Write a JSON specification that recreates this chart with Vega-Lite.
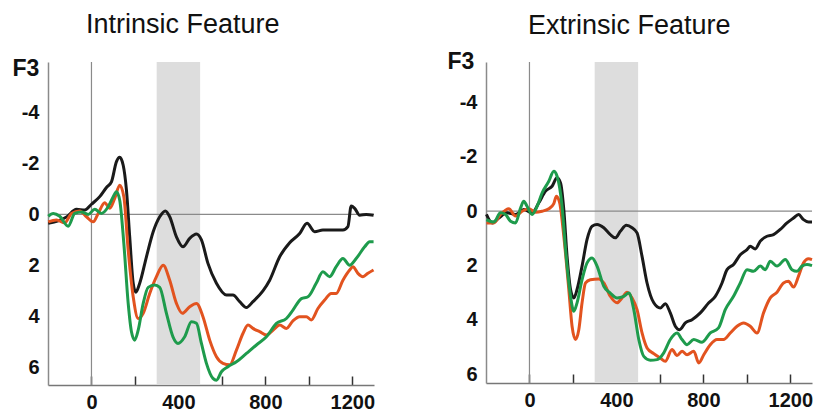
{
  "$schema": "https://vega.github.io/schema/vega-lite/v6.json",
  "padding": {"left": 12, "top": 11, "right": 0, "bottom": 0},
  "spacing": 67,
  "config": {
    "view": {"stroke": null},
    "font": "Liberation Sans",
    "title": {"font": "Liberation Sans", "fontSize": 27, "fontWeight": "normal", "color": "#111", "anchor": "start", "frame": "group", "baseline": "alphabetic"},
    "axis": {"labelFont": "Liberation Sans", "titleFont": "Liberation Sans", "labelColor": "#111", "titleColor": "#111", "grid": false}
  },
  "datasets": {
    "intr": [
      {"t":-199,"v":0.35,"c":"cond3"},{"t":-153,"v":0.25,"c":"cond3"},{"t":-115,"v":0.1,"c":"cond3"},{"t":-69,"v":-0.2,"c":"cond3"},{"t":-31,"v":-0.17,"c":"cond3"},{"t":0,"v":-0.4,"c":"cond3"},{"t":38,"v":-0.7,"c":"cond3"},{"t":69,"v":-1.06,"c":"cond3"},{"t":92,"v":-1.28,"c":"cond3"},{"t":115,"v":-2.07,"c":"cond3"},{"t":130,"v":-2.24,"c":"cond3"},{"t":146,"v":-1.93,"c":"cond3"},{"t":161,"v":-0.95,"c":"cond3"},{"t":176,"v":0.88,"c":"cond3"},{"t":192,"v":2.7,"c":"cond3"},{"t":204,"v":3.05,"c":"cond3"},{"t":222,"v":2.7,"c":"cond3"},{"t":253,"v":1.66,"c":"cond3"},{"t":284,"v":0.68,"c":"cond3"},{"t":314,"v":0.09,"c":"cond3"},{"t":340,"v":-0.14,"c":"cond3"},{"t":360,"v":0.09,"c":"cond3"},{"t":391,"v":0.88,"c":"cond3"},{"t":421,"v":1.27,"c":"cond3"},{"t":452,"v":0.94,"c":"cond3"},{"t":483,"v":0.77,"c":"cond3"},{"t":506,"v":1.0,"c":"cond3"},{"t":536,"v":1.92,"c":"cond3"},{"t":575,"v":2.7,"c":"cond3"},{"t":621,"v":3.16,"c":"cond3"},{"t":651,"v":3.16,"c":"cond3"},{"t":682,"v":3.42,"c":"cond3"},{"t":713,"v":3.65,"c":"cond3"},{"t":743,"v":3.42,"c":"cond3"},{"t":789,"v":3.0,"c":"cond3"},{"t":820,"v":2.58,"c":"cond3"},{"t":866,"v":1.66,"c":"cond3"},{"t":912,"v":1.11,"c":"cond3"},{"t":958,"v":0.75,"c":"cond3"},{"t":992,"v":0.35,"c":"cond3"},{"t":1027,"v":0.68,"c":"cond3"},{"t":1065,"v":0.61,"c":"cond3"},{"t":1111,"v":0.61,"c":"cond3"},{"t":1157,"v":0.61,"c":"cond3"},{"t":1180,"v":0.48,"c":"cond3"},{"t":1195,"v":-0.33,"c":"cond3"},{"t":1211,"v":-0.24,"c":"cond3"},{"t":1234,"v":0.03,"c":"cond3"},{"t":1264,"v":0,"c":"cond3"},{"t":1298,"v":0.03,"c":"cond3"},
      {"t":-199,"v":0.29,"c":"cond1"},{"t":-161,"v":0.22,"c":"cond1"},{"t":-123,"v":0.33,"c":"cond1"},{"t":-92,"v":-0.04,"c":"cond1"},{"t":-54,"v":-0.14,"c":"cond1"},{"t":-23,"v":0.09,"c":"cond1"},{"t":8,"v":0.29,"c":"cond1"},{"t":31,"v":-0.04,"c":"cond1"},{"t":61,"v":-0.46,"c":"cond1"},{"t":84,"v":-0.24,"c":"cond1"},{"t":107,"v":-0.63,"c":"cond1"},{"t":130,"v":-1.15,"c":"cond1"},{"t":149,"v":-0.69,"c":"cond1"},{"t":169,"v":1.4,"c":"cond1"},{"t":192,"v":3.23,"c":"cond1"},{"t":215,"v":4.08,"c":"cond1"},{"t":238,"v":3.88,"c":"cond1"},{"t":268,"v":3.1,"c":"cond1"},{"t":299,"v":2.44,"c":"cond1"},{"t":330,"v":1.99,"c":"cond1"},{"t":360,"v":2.58,"c":"cond1"},{"t":391,"v":3.49,"c":"cond1"},{"t":418,"v":3.88,"c":"cond1"},{"t":452,"v":3.62,"c":"cond1"},{"t":483,"v":3.49,"c":"cond1"},{"t":513,"v":4.01,"c":"cond1"},{"t":544,"v":4.93,"c":"cond1"},{"t":575,"v":5.58,"c":"cond1"},{"t":605,"v":5.84,"c":"cond1"},{"t":636,"v":5.9,"c":"cond1"},{"t":667,"v":5.32,"c":"cond1"},{"t":697,"v":4.67,"c":"cond1"},{"t":720,"v":4.34,"c":"cond1"},{"t":743,"v":4.47,"c":"cond1"},{"t":774,"v":4.6,"c":"cond1"},{"t":805,"v":4.73,"c":"cond1"},{"t":835,"v":4.54,"c":"cond1"},{"t":866,"v":4.34,"c":"cond1"},{"t":897,"v":4.47,"c":"cond1"},{"t":927,"v":4.17,"c":"cond1"},{"t":958,"v":4.01,"c":"cond1"},{"t":989,"v":4.01,"c":"cond1"},{"t":1011,"v":4.14,"c":"cond1"},{"t":1042,"v":3.69,"c":"cond1"},{"t":1073,"v":3.36,"c":"cond1"},{"t":1103,"v":3.1,"c":"cond1"},{"t":1126,"v":3.1,"c":"cond1"},{"t":1157,"v":2.58,"c":"cond1"},{"t":1188,"v":2.18,"c":"cond1"},{"t":1203,"v":2.05,"c":"cond1"},{"t":1226,"v":2.31,"c":"cond1"},{"t":1249,"v":2.44,"c":"cond1"},{"t":1272,"v":2.31,"c":"cond1"},{"t":1298,"v":2.18,"c":"cond1"},
      {"t":-199,"v":0.07,"c":"cond2"},{"t":-176,"v":-0.04,"c":"cond2"},{"t":-146,"v":0.07,"c":"cond2"},{"t":-107,"v":0.46,"c":"cond2"},{"t":-77,"v":-0.04,"c":"cond2"},{"t":-46,"v":-0.1,"c":"cond2"},{"t":-15,"v":0,"c":"cond2"},{"t":15,"v":-0.2,"c":"cond2"},{"t":46,"v":-0.04,"c":"cond2"},{"t":77,"v":-0.3,"c":"cond2"},{"t":100,"v":-0.69,"c":"cond2"},{"t":115,"v":-0.89,"c":"cond2"},{"t":130,"v":-0.56,"c":"cond2"},{"t":149,"v":1.14,"c":"cond2"},{"t":169,"v":3.49,"c":"cond2"},{"t":184,"v":4.6,"c":"cond2"},{"t":199,"v":4.93,"c":"cond2"},{"t":215,"v":4.54,"c":"cond2"},{"t":238,"v":3.49,"c":"cond2"},{"t":261,"v":2.86,"c":"cond2"},{"t":291,"v":2.77,"c":"cond2"},{"t":314,"v":2.86,"c":"cond2"},{"t":345,"v":3.88,"c":"cond2"},{"t":375,"v":4.8,"c":"cond2"},{"t":398,"v":5.06,"c":"cond2"},{"t":429,"v":4.8,"c":"cond2"},{"t":460,"v":4.21,"c":"cond2"},{"t":483,"v":4.27,"c":"cond2"},{"t":506,"v":5.06,"c":"cond2"},{"t":529,"v":5.84,"c":"cond2"},{"t":559,"v":6.43,"c":"cond2"},{"t":575,"v":6.5,"c":"cond2"},{"t":598,"v":6.17,"c":"cond2"},{"t":628,"v":5.97,"c":"cond2"},{"t":667,"v":5.78,"c":"cond2"},{"t":713,"v":5.45,"c":"cond2"},{"t":759,"v":5.12,"c":"cond2"},{"t":805,"v":4.8,"c":"cond2"},{"t":851,"v":4.27,"c":"cond2"},{"t":897,"v":4.08,"c":"cond2"},{"t":927,"v":3.75,"c":"cond2"},{"t":966,"v":3.3,"c":"cond2"},{"t":996,"v":3.23,"c":"cond2"},{"t":1034,"v":2.7,"c":"cond2"},{"t":1065,"v":2.25,"c":"cond2"},{"t":1096,"v":2.44,"c":"cond2"},{"t":1126,"v":2.05,"c":"cond2"},{"t":1157,"v":1.73,"c":"cond2"},{"t":1188,"v":1.99,"c":"cond2"},{"t":1218,"v":1.73,"c":"cond2"},{"t":1257,"v":1.27,"c":"cond2"},{"t":1280,"v":1.07,"c":"cond2"},{"t":1298,"v":1.07,"c":"cond2"}
    ],
    "extr": [
      {"t":-198,"v":0.12,"c":"cond3"},{"t":-172,"v":0.43,"c":"cond3"},{"t":-141,"v":0.25,"c":"cond3"},{"t":-103,"v":0.06,"c":"cond3"},{"t":-64,"v":0.12,"c":"cond3"},{"t":-26,"v":-0.06,"c":"cond3"},{"t":12,"v":0.06,"c":"cond3"},{"t":43,"v":-0.31,"c":"cond3"},{"t":74,"v":-0.74,"c":"cond3"},{"t":104,"v":-0.92,"c":"cond3"},{"t":127,"v":-1.23,"c":"cond3"},{"t":143,"v":-1.04,"c":"cond3"},{"t":158,"v":-0.06,"c":"cond3"},{"t":173,"v":1.66,"c":"cond3"},{"t":189,"v":2.88,"c":"cond3"},{"t":204,"v":3.19,"c":"cond3"},{"t":219,"v":2.88,"c":"cond3"},{"t":242,"v":2.02,"c":"cond3"},{"t":265,"v":1.04,"c":"cond3"},{"t":288,"v":0.55,"c":"cond3"},{"t":311,"v":0.49,"c":"cond3"},{"t":342,"v":0.61,"c":"cond3"},{"t":372,"v":0.86,"c":"cond3"},{"t":395,"v":0.98,"c":"cond3"},{"t":418,"v":0.74,"c":"cond3"},{"t":446,"v":0.52,"c":"cond3"},{"t":472,"v":0.61,"c":"cond3"},{"t":495,"v":0.8,"c":"cond3"},{"t":518,"v":1.66,"c":"cond3"},{"t":541,"v":2.64,"c":"cond3"},{"t":572,"v":3.37,"c":"cond3"},{"t":602,"v":3.56,"c":"cond3"},{"t":625,"v":3.4,"c":"cond3"},{"t":648,"v":3.74,"c":"cond3"},{"t":671,"v":4.23,"c":"cond3"},{"t":691,"v":4.36,"c":"cond3"},{"t":717,"v":4.11,"c":"cond3"},{"t":748,"v":3.99,"c":"cond3"},{"t":786,"v":3.74,"c":"cond3"},{"t":825,"v":3.37,"c":"cond3"},{"t":855,"v":3.13,"c":"cond3"},{"t":886,"v":2.64,"c":"cond3"},{"t":909,"v":2.15,"c":"cond3"},{"t":939,"v":1.96,"c":"cond3"},{"t":970,"v":1.6,"c":"cond3"},{"t":1001,"v":1.41,"c":"cond3"},{"t":1016,"v":1.29,"c":"cond3"},{"t":1039,"v":1.39,"c":"cond3"},{"t":1062,"v":1.1,"c":"cond3"},{"t":1093,"v":0.92,"c":"cond3"},{"t":1123,"v":0.86,"c":"cond3"},{"t":1154,"v":0.67,"c":"cond3"},{"t":1185,"v":0.43,"c":"cond3"},{"t":1215,"v":0.25,"c":"cond3"},{"t":1238,"v":0.12,"c":"cond3"},{"t":1261,"v":0.31,"c":"cond3"},{"t":1284,"v":0.4,"c":"cond3"},{"t":1300,"v":0.4,"c":"cond3"},
      {"t":-198,"v":0.43,"c":"cond1"},{"t":-164,"v":0.43,"c":"cond1"},{"t":-133,"v":0.12,"c":"cond1"},{"t":-95,"v":-0.09,"c":"cond1"},{"t":-64,"v":0.18,"c":"cond1"},{"t":-34,"v":0,"c":"cond1"},{"t":-3,"v":-0.09,"c":"cond1"},{"t":28,"v":0.04,"c":"cond1"},{"t":58,"v":0,"c":"cond1"},{"t":89,"v":-0.09,"c":"cond1"},{"t":112,"v":-0.28,"c":"cond1"},{"t":124,"v":-0.55,"c":"cond1"},{"t":139,"v":-0.31,"c":"cond1"},{"t":158,"v":0.92,"c":"cond1"},{"t":181,"v":2.88,"c":"cond1"},{"t":196,"v":4.23,"c":"cond1"},{"t":212,"v":4.72,"c":"cond1"},{"t":227,"v":4.36,"c":"cond1"},{"t":242,"v":3.37,"c":"cond1"},{"t":258,"v":2.64,"c":"cond1"},{"t":280,"v":2.52,"c":"cond1"},{"t":319,"v":2.49,"c":"cond1"},{"t":342,"v":2.64,"c":"cond1"},{"t":372,"v":3.13,"c":"cond1"},{"t":403,"v":3.37,"c":"cond1"},{"t":426,"v":3.19,"c":"cond1"},{"t":449,"v":2.98,"c":"cond1"},{"t":472,"v":3.19,"c":"cond1"},{"t":495,"v":3.62,"c":"cond1"},{"t":518,"v":4.48,"c":"cond1"},{"t":541,"v":5.03,"c":"cond1"},{"t":572,"v":5.24,"c":"cond1"},{"t":602,"v":5.4,"c":"cond1"},{"t":625,"v":5.52,"c":"cond1"},{"t":656,"v":5.09,"c":"cond1"},{"t":679,"v":5.31,"c":"cond1"},{"t":702,"v":5.15,"c":"cond1"},{"t":725,"v":5.28,"c":"cond1"},{"t":756,"v":5.15,"c":"cond1"},{"t":779,"v":5.58,"c":"cond1"},{"t":802,"v":5.28,"c":"cond1"},{"t":832,"v":4.91,"c":"cond1"},{"t":863,"v":4.72,"c":"cond1"},{"t":893,"v":4.72,"c":"cond1"},{"t":924,"v":4.48,"c":"cond1"},{"t":955,"v":4.23,"c":"cond1"},{"t":985,"v":4.11,"c":"cond1"},{"t":1016,"v":4.23,"c":"cond1"},{"t":1047,"v":4.48,"c":"cond1"},{"t":1077,"v":3.74,"c":"cond1"},{"t":1108,"v":3.19,"c":"cond1"},{"t":1139,"v":2.98,"c":"cond1"},{"t":1169,"v":2.64,"c":"cond1"},{"t":1192,"v":2.58,"c":"cond1"},{"t":1215,"v":2.79,"c":"cond1"},{"t":1238,"v":2.39,"c":"cond1"},{"t":1261,"v":1.9,"c":"cond1"},{"t":1284,"v":1.75,"c":"cond1"},{"t":1300,"v":1.78,"c":"cond1"},
      {"t":-198,"v":0.31,"c":"cond2"},{"t":-164,"v":0.4,"c":"cond2"},{"t":-133,"v":0.06,"c":"cond2"},{"t":-110,"v":0.12,"c":"cond2"},{"t":-87,"v":0.37,"c":"cond2"},{"t":-64,"v":0.43,"c":"cond2"},{"t":-41,"v":-0.12,"c":"cond2"},{"t":-26,"v":-0.37,"c":"cond2"},{"t":-11,"v":-0.18,"c":"cond2"},{"t":12,"v":0.12,"c":"cond2"},{"t":35,"v":-0.18,"c":"cond2"},{"t":58,"v":-0.67,"c":"cond2"},{"t":89,"v":-1.1,"c":"cond2"},{"t":112,"v":-1.47,"c":"cond2"},{"t":127,"v":-1.29,"c":"cond2"},{"t":150,"v":-0.18,"c":"cond2"},{"t":166,"v":1.41,"c":"cond2"},{"t":189,"v":3.13,"c":"cond2"},{"t":204,"v":3.68,"c":"cond2"},{"t":219,"v":3.37,"c":"cond2"},{"t":242,"v":2.52,"c":"cond2"},{"t":265,"v":1.9,"c":"cond2"},{"t":288,"v":1.72,"c":"cond2"},{"t":311,"v":2.02,"c":"cond2"},{"t":342,"v":2.76,"c":"cond2"},{"t":372,"v":3.01,"c":"cond2"},{"t":403,"v":3.19,"c":"cond2"},{"t":434,"v":3.13,"c":"cond2"},{"t":457,"v":3.01,"c":"cond2"},{"t":480,"v":3.62,"c":"cond2"},{"t":503,"v":4.72,"c":"cond2"},{"t":526,"v":5.34,"c":"cond2"},{"t":556,"v":5.48,"c":"cond2"},{"t":587,"v":5.46,"c":"cond2"},{"t":618,"v":5.21,"c":"cond2"},{"t":648,"v":4.72,"c":"cond2"},{"t":679,"v":4.48,"c":"cond2"},{"t":702,"v":4.72,"c":"cond2"},{"t":725,"v":4.91,"c":"cond2"},{"t":756,"v":4.72,"c":"cond2"},{"t":794,"v":4.82,"c":"cond2"},{"t":832,"v":4.48,"c":"cond2"},{"t":870,"v":4.29,"c":"cond2"},{"t":901,"v":3.62,"c":"cond2"},{"t":939,"v":3.13,"c":"cond2"},{"t":970,"v":2.64,"c":"cond2"},{"t":1001,"v":2.15,"c":"cond2"},{"t":1031,"v":2.21,"c":"cond2"},{"t":1062,"v":2.02,"c":"cond2"},{"t":1085,"v":2.15,"c":"cond2"},{"t":1108,"v":1.84,"c":"cond2"},{"t":1139,"v":2.02,"c":"cond2"},{"t":1177,"v":1.78,"c":"cond2"},{"t":1208,"v":2.15,"c":"cond2"},{"t":1231,"v":2.21,"c":"cond2"},{"t":1254,"v":2.02,"c":"cond2"},{"t":1277,"v":1.96,"c":"cond2"},{"t":1300,"v":2.0,"c":"cond2"}
    ],
    "win": [{"start": 300, "end": 500}],
    "zero": [{"z": 0}]
  },
  "hconcat": [
    {
      "width": 326,
      "height": 323,
      "title": {"text": "Intrinsic Feature", "dx": 38, "offset": 18},
      "layer": [
        {"data": {"name": "win"}, "mark": {"type": "rect", "color": "#dddddd"}, "encoding": {"x": {"field": "start", "type": "quantitative", "title": null}, "x2": {"field": "end"}}},
        {"data": {"name": "zero"}, "mark": {"type": "rule", "color": "#8a8a8a", "strokeWidth": 1.2}, "encoding": {"y": {"field": "z", "type": "quantitative", "title": "F3"}}},
        {"data": {"name": "zero"}, "mark": {"type": "rule", "color": "#8a8a8a", "strokeWidth": 1.2}, "encoding": {"x": {"field": "z", "type": "quantitative", "title": null}}},
        {
          "data": {"name": "intr"},
          "mark": {"type": "line", "strokeWidth": 3, "interpolate": "monotone"},
          "encoding": {
            "x": {"field": "t", "type": "quantitative", "title": null, "scale": {"domain": [-200, 1300], "nice": false, "zero": false},
              "axis": {"values": [0, 200, 400, 600, 800, 1000, 1200], "labelExpr": "datum.value % 400 == 0 ? datum.value + '' : ''", "tickSize": -9, "tickColor": "#333", "tickWidth": 1.5, "domainColor": "#777", "domainWidth": 1.5, "labelFontSize": 20, "labelFontWeight": "bold", "labelPadding": 16, "labelFlush": false, "labelOverlap": false}},
            "y": {"field": "v", "type": "quantitative", "title": "F3", "scale": {"domain": [-5.98, 6.69], "reverse": true, "nice": false, "zero": false},
              "axis": {"titleAngle": 0, "titleAlign": "left", "titleBaseline": "alphabetic", "titleX": -36, "titleY": 13, "titleFontSize": 23, "titleFontWeight": "bold", "values": [-4, -2, 0, 2, 4, 6], "labelExpr": "datum.value + ''", "ticks": false, "domainColor": "#8a8a8a", "domainWidth": 1.5, "labelFontSize": 20, "labelFontWeight": "bold", "labelPadding": 9, "labelOverlap": false}},
            "color": {"field": "c", "type": "nominal", "scale": {"domain": ["cond1", "cond2", "cond3"], "range": ["#e2531f", "#1e9b4c", "#1a1a1a"]}, "legend": null}
          }
        }
      ]
    },
    {
      "width": 326,
      "height": 321,
      "title": {"text": "Extrinsic Feature", "dx": 42, "offset": 10},
      "layer": [
        {"data": {"name": "win"}, "mark": {"type": "rect", "color": "#dddddd"}, "encoding": {"x": {"field": "start", "type": "quantitative", "title": null}, "x2": {"field": "end"}}},
        {"data": {"name": "zero"}, "mark": {"type": "rule", "color": "#8a8a8a", "strokeWidth": 1.2}, "encoding": {"y": {"field": "z", "type": "quantitative", "title": "F3"}}},
        {"data": {"name": "zero"}, "mark": {"type": "rule", "color": "#8a8a8a", "strokeWidth": 1.2}, "encoding": {"x": {"field": "z", "type": "quantitative", "title": null}}},
        {
          "data": {"name": "extr"},
          "mark": {"type": "line", "strokeWidth": 3, "interpolate": "monotone"},
          "encoding": {
            "x": {"field": "t", "type": "quantitative", "title": null, "scale": {"domain": [-200, 1300], "nice": false, "zero": false},
              "axis": {"values": [0, 200, 400, 600, 800, 1000, 1200], "labelExpr": "datum.value % 400 == 0 ? datum.value + '' : ''", "tickSize": -9, "tickColor": "#333", "tickWidth": 1.5, "domainColor": "#777", "domainWidth": 1.5, "labelFontSize": 20, "labelFontWeight": "bold", "labelPadding": 16, "labelFlush": false, "labelOverlap": false}},
            "y": {"field": "v", "type": "quantitative", "title": "F3", "scale": {"domain": [-5.49, 6.32], "reverse": true, "nice": false, "zero": false},
              "axis": {"titleAngle": 0, "titleAlign": "left", "titleBaseline": "alphabetic", "titleX": -39, "titleY": 6, "titleFontSize": 23, "titleFontWeight": "bold", "values": [-4, -2, 0, 2, 4, 6], "labelExpr": "datum.value + ''", "ticks": false, "domainColor": "#8a8a8a", "domainWidth": 1.5, "labelFontSize": 20, "labelFontWeight": "bold", "labelPadding": 9, "labelOverlap": false}},
            "color": {"field": "c", "type": "nominal", "scale": {"domain": ["cond1", "cond2", "cond3"], "range": ["#e2531f", "#1e9b4c", "#1a1a1a"]}, "legend": null}
          }
        }
      ]
    }
  ],
  "resolve": {"scale": {"y": "independent"}}
}
